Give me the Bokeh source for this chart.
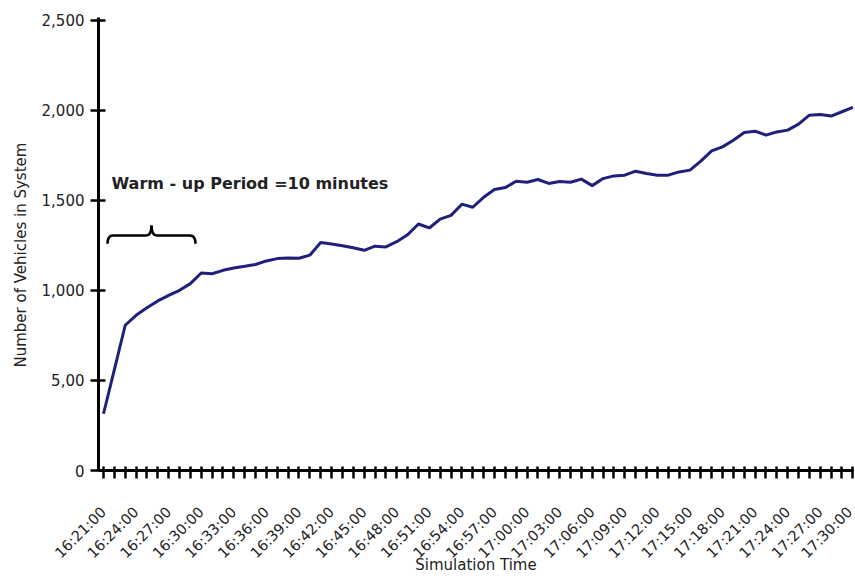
import math

from bokeh.plotting import figure
from bokeh.models import FixedTicker, Range1d, Label, Title
from bokeh.embed import file_html
from bokeh.resources import INLINE

# Vehicles in the network, sampled once per simulated minute from 16:21:00
vehicles = [
    315, 560, 806, 861, 903, 941, 972, 1000, 1037, 1096,
    1092, 1111, 1124, 1133, 1143, 1163, 1176, 1179, 1178, 1195,
    1265, 1257, 1247, 1236, 1222, 1245, 1241, 1270, 1308, 1368,
    1346, 1395, 1416, 1478, 1461, 1516, 1559, 1570, 1605, 1600,
    1615, 1593, 1604, 1600, 1617, 1581, 1620, 1635, 1639, 1661,
    1648, 1639, 1639, 1657, 1667, 1717, 1774, 1796, 1833, 1876,
    1883, 1861, 1879, 1889, 1922, 1972, 1976, 1967, 1991, 2015,
]
minutes = list(range(len(vehicles)))

# Clock labels, one every three minutes
time_labels = [
    "16:21:00", "16:24:00", "16:27:00", "16:30:00", "16:33:00", "16:36:00",
    "16:39:00", "16:42:00", "16:45:00", "16:48:00", "16:51:00", "16:54:00",
    "16:57:00", "17:00:00", "17:03:00", "17:06:00", "17:09:00", "17:12:00",
    "17:15:00", "17:18:00", "17:21:00", "17:24:00", "17:27:00", "17:30:00",
]
label_step = 3

y_ticks = [0, 500, 1000, 1500, 2000, 2500]
y_tick_labels = ["0", "5,00", "1,000", "1,500", "2,000", "2,500"]

# Warm-up span marked by the brace (minutes after start)
warmup_start = 0.37
warmup_end = 8.47
warmup_text = "Warm  - up Period =10 minutes"

x_title = "Simulation Time"
y_title = "Number of Vehicles in System"

FONT = "DejaVu Sans"
INK = "#222222"

X_MIN, X_MAX = -0.46, 69.06
Y_MAX = 2514

p = figure(
    width=855, height=578,
    output_backend="svg", toolbar_location=None, title=None,
    x_range=Range1d(X_MIN, X_MAX), y_range=Range1d(0, Y_MAX),
    min_border_left=98, min_border_right=2,
    min_border_top=17, min_border_bottom=108,
)
p.grid.visible = False
p.outline_line_color = None
p.background_fill_color = "white"
p.border_fill_color = "white"

p.line(minutes, vehicles, line_color="#1f1f7c", line_width=3)

# Curly brace over the warm-up interval
mid = (warmup_start + warmup_end) / 2
hook = 0.5
y_low, y_bar, y_tip = 1258, 1304, 1360
brace = dict(line_color="black", line_width=2.6)
p.quadratic(x0=[warmup_start, warmup_end], y0=[y_low, y_low],
            x1=[warmup_start + hook, warmup_end - hook], y1=[y_bar, y_bar],
            cx=[warmup_start, warmup_end], cy=[y_bar, y_bar], **brace)
p.segment(x0=[warmup_start + hook, mid + hook], y0=[y_bar, y_bar],
          x1=[mid - hook, warmup_end - hook], y1=[y_bar, y_bar], **brace)
p.quadratic(x0=[mid - hook, mid + hook], y0=[y_bar, y_bar],
            x1=[mid, mid], y1=[y_tip, y_tip],
            cx=[mid, mid], cy=[y_bar, y_bar], **brace)

p.add_layout(Label(
    x=0.74, y=1593, text=warmup_text,
    text_font=FONT, text_font_style="bold", text_font_size="16px",
    text_color=INK, text_baseline="alphabetic",
))

# Vertical title on the left, starting a little above the x axis
p.add_layout(Title(
    text=y_title, align="left", offset=103, standoff=17,
    text_font=FONT, text_font_style="normal", text_font_size="15px",
    text_color=INK,
), "left")

xa = p.xaxis[0]
xa.ticker = FixedTicker(ticks=minutes)
xa.major_label_overrides = {
    m: (time_labels[m // label_step] if m % label_step == 0 else "")
    for m in minutes
}
xa.major_label_orientation = math.pi / 4
xa.major_label_standoff = 31
xa.major_label_text_font = FONT
xa.major_label_text_font_size = "14.5px"
xa.major_label_text_color = INK
xa.major_tick_in = 4
xa.major_tick_out = 8
xa.major_tick_line_width = 2.5
xa.minor_tick_line_color = None
xa.axis_line_width = 3
xa.axis_label = x_title
xa.axis_label_text_font = FONT
xa.axis_label_text_font_style = "normal"
xa.axis_label_text_font_size = "15px"
xa.axis_label_text_color = INK
xa.axis_label_standoff = -14

ya = p.yaxis[0]
ya.ticker = FixedTicker(ticks=y_ticks)
ya.major_label_overrides = dict(zip(y_ticks, y_tick_labels))
ya.major_label_standoff = 6
ya.major_label_text_font = FONT
ya.major_label_text_font_size = "15px"
ya.major_label_text_color = INK
ya.major_tick_in = 7
ya.major_tick_out = 8
ya.major_tick_line_width = 2.5
ya.minor_tick_line_color = None
ya.axis_line_width = 3

open("out.html", "w").write(file_html(p, INLINE))
